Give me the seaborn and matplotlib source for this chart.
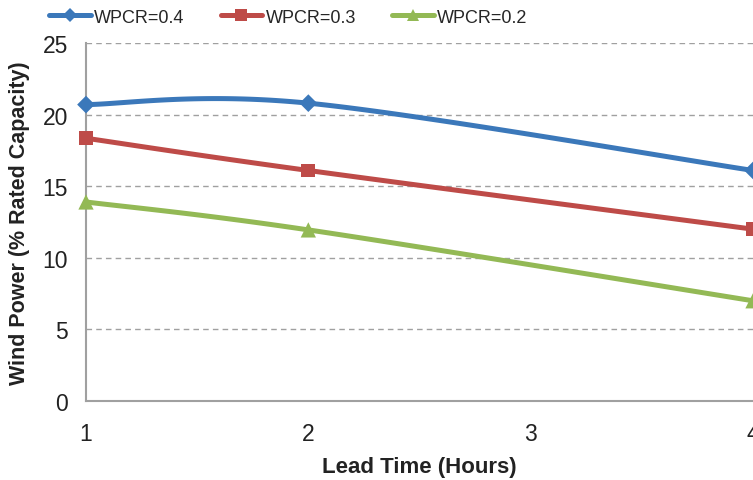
import numpy as np
import pandas as pd
import matplotlib
matplotlib.use("Agg")
import matplotlib.pyplot as plt
from matplotlib.lines import Line2D
import seaborn as sns

# Forecast wind power by lead time for three WPCR settings
lead_time = [1, 2, 4]
wpcr_04 = [20.7, 20.8, 16.1]
wpcr_03 = [18.35, 16.1, 12.0]
wpcr_02 = [13.9, 11.95, 7.0]
series_names = ["WPCR=0.4", "WPCR=0.3", "WPCR=0.2"]
x_ticks = [1, 2, 3, 4]
y_ticks = [0, 5, 10, 15, 20, 25]

colors = ["#3B78BA", "#BE4B48", "#93B955"]
markers = ["D", "s", "^"]
msizes = [9, 10, 11]

df = pd.DataFrame({
    "Lead Time": lead_time * 3,
    "Value": wpcr_04 + wpcr_03 + wpcr_02,
    "Series": np.repeat(series_names, len(lead_time)),
})


def smooth_curve(xs, ys, n=60):
    """Bezier smoothing through the points (Catmull-Rom style control points)."""
    pts = np.column_stack([xs, ys]).astype(float)
    padded = np.vstack([pts[0], pts, pts[-1]])
    out = []
    for i in range(1, len(padded) - 2):
        p0, p1, p2, p3 = padded[i - 1], padded[i], padded[i + 1], padded[i + 2]
        c1 = p1 + (p2 - p0) / 6.0
        c2 = p2 - (p3 - p1) / 6.0
        t = np.linspace(0, 1, n)[:, None]
        seg = ((1 - t) ** 3) * p1 + 3 * ((1 - t) ** 2) * t * c1 + 3 * (1 - t) * t ** 2 * c2 + t ** 3 * p2
        out.append(seg if i == 1 else seg[1:])
    seg = np.vstack(out)
    return seg[:, 0], seg[:, 1]


sns.set_theme(style="white")
plt.rcParams["font.family"] = ["Liberation Sans", "DejaVu Sans"]

fig = plt.figure(figsize=(7.53, 4.81), dpi=100)
ax = fig.add_axes([0.1142, 0.1642, 0.8858, 0.7443])

for name, color in zip(series_names, colors):
    sub = df[df["Series"] == name]
    sx, sy = smooth_curve(sub["Lead Time"].values, sub["Value"].values)
    ax.plot(sx, sy, color=color, lw=3.6, solid_capstyle="round", zorder=3, clip_on=False)

sns.scatterplot(data=df, x="Lead Time", y="Value", hue="Series", style="Series",
                palette=dict(zip(series_names, colors)),
                markers=dict(zip(series_names, markers)),
                size="Series", sizes=dict(zip(series_names, [m ** 2 for m in msizes])),
                edgecolor="none", linewidth=0, legend=False, ax=ax, zorder=4, clip_on=False)

ax.set_xlim(1, 4)
ax.set_ylim(0, 25)
ax.set_xticks(x_ticks)
ax.set_yticks(y_ticks)
ax.tick_params(axis="both", labelsize=16.5, colors="#222222", length=6, width=1.2,
               direction="out", pad=7)
ax.tick_params(axis="x", color="#A0A0A0", pad=9)
ax.tick_params(axis="y", color="#A0A0A0")
ax.grid(axis="y", linestyle=(0, (4, 3)), color="#A0A0A0", lw=1.0)
ax.grid(axis="x", visible=False)
for side in ["top", "right"]:
    ax.spines[side].set_visible(False)
for side in ["left", "bottom"]:
    ax.spines[side].set_color("#A0A0A0")
    ax.spines[side].set_linewidth(1.5)

ax.set_xlabel("Lead Time (Hours)", fontsize=16, fontweight="bold", color="#222222", labelpad=8)
ax.set_ylabel("Wind Power (% Rated Capacity)", fontsize=15.5, fontweight="bold", color="#222222", labelpad=9)

handles = [Line2D([0], [0], color=c, lw=3.6, marker=m, markersize=s * 0.8, markeredgewidth=0)
           for c, m, s in zip(colors, markers, msizes)]
fig.legend(handles, series_names, loc="center", bbox_to_anchor=(0.383, 0.962),
           ncol=3, frameon=False, fontsize=13, handlelength=2.3, handletextpad=0.2,
           columnspacing=2.0, borderpad=0.0)

fig.savefig("out.png", dpi=100)
